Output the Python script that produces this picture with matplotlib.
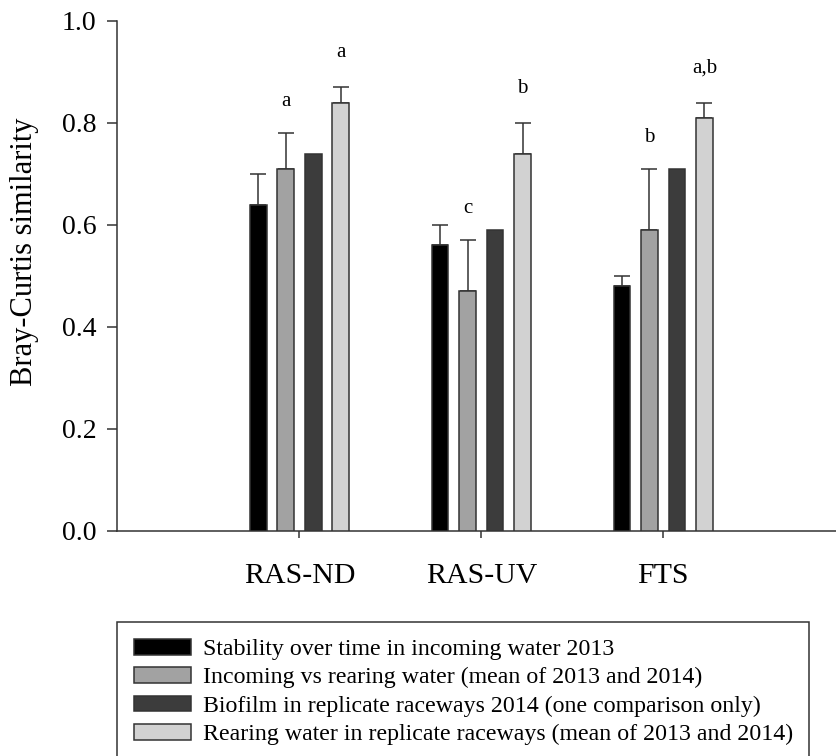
import numpy as np
import matplotlib
matplotlib.use("Agg")
import matplotlib.pyplot as plt
from matplotlib.patches import Patch

plt.rcParams['font.family'] = ['Liberation Serif', 'DejaVu Serif']

categories = ["RAS-ND", "RAS-UV", "FTS"]
series_names = [
    "Stability over time in incoming water 2013",
    "Incoming vs rearing water (mean of 2013 and 2014)",
    "Biofilm in replicate raceways 2014 (one comparison only)",
    "Rearing water in replicate raceways (mean of 2013 and 2014)",
]
stability = [0.64, 0.56, 0.48]
stability_err = [0.06, 0.04, 0.02]
incoming = [0.71, 0.47, 0.59]
incoming_err = [0.07, 0.10, 0.12]
biofilm = [0.74, 0.59, 0.71]
biofilm_err = [np.nan, np.nan, np.nan]
rearing = [0.84, 0.74, 0.81]
rearing_err = [0.03, 0.06, 0.03]
incoming_letters = ["a", "c", "b"]
rearing_letters = ["a", "b", "a,b"]
yticks = [0.0, 0.2, 0.4, 0.6, 0.8, 1.0]

colors = ["#000000", "#a2a2a2", "#3c3c3c", "#d2d2d2"]
edge = "#333333"

fig = plt.figure(figsize=(8.36, 7.56), dpi=100)
ax = fig.add_axes([117/836, 1-531/756, 1-117/836, 510/756])

x = np.arange(len(categories))
width = 0.092
pitch = 0.151
offsets = [-1.5*pitch, -0.5*pitch, 0.5*pitch, 1.5*pitch]
all_vals = [stability, incoming, biofilm, rearing]
all_errs = [stability_err, incoming_err, biofilm_err, rearing_err]

for i, (vals, errs) in enumerate(zip(all_vals, all_errs)):
    xs = x + offsets[i]
    ax.bar(xs, vals, width, color=colors[i], edgecolor=edge, linewidth=1.1, zorder=3)
    errs = np.array(errs, dtype=float)
    mask = ~np.isnan(errs)
    if mask.any():
        ax.errorbar(xs[mask], np.array(vals)[mask],
                    yerr=[np.zeros(mask.sum()), errs[mask]],
                    fmt='none', ecolor=edge, elinewidth=1.1, capsize=5.5,
                    capthick=1.1, zorder=2)

for j in range(len(categories)):
    ax.text(x[j] + offsets[1], incoming[j] + incoming_err[j] + 0.062,
            incoming_letters[j], ha='center', va='center', fontsize=15)
    ax.text(x[j] + offsets[3], rearing[j] + rearing_err[j] + 0.068,
            rearing_letters[j], ha='center', va='center', fontsize=15)

ax.set_xlim(-1.003, 2.95)
ax.set_ylim(0, 1.0)
ax.set_xticks(x)
ax.set_xticklabels(categories, fontsize=21.5)
ax.set_yticks(yticks)
ax.set_yticklabels([f"{t:.1f}" for t in yticks], fontsize=20)
ax.tick_params(axis='y', length=7, width=1.1, color=edge, pad=8, direction='out')
ax.tick_params(axis='x', length=5, width=1.1, color=edge, pad=18, direction='out')
for s in ['top', 'right']:
    ax.spines[s].set_visible(False)
for s in ['left', 'bottom']:
    ax.spines[s].set_color(edge)
    ax.spines[s].set_linewidth(1.1)

ax.set_ylabel("Bray-Curtis similarity", fontsize=22, va='center')
ax.yaxis.set_label_coords(-0.128, 0.547)

handles = [Patch(facecolor=c, edgecolor=edge, linewidth=1.1) for c in colors]
leg_top = 1 - 622/756
leg = fig.legend(handles, series_names, loc='upper left',
                 bbox_to_anchor=(117/836, leg_top - 0.3, (809-117)/836, 0.3),
                 mode='expand', borderaxespad=0, fontsize=17.2,
                 handlelength=2.4, handleheight=0.64, handletextpad=0.5,
                 labelspacing=0.3, borderpad=0.7, fancybox=False,
                 framealpha=1, edgecolor=edge)
leg.get_frame().set_linewidth(1.1)

fig.savefig("out.png", dpi=100)
